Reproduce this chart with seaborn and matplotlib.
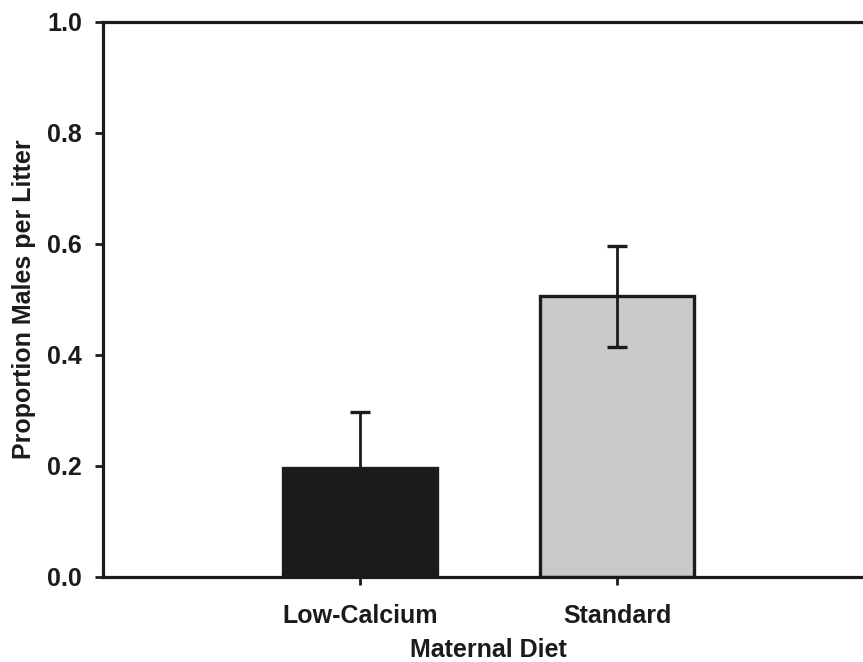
import matplotlib
matplotlib.use("Agg")
import matplotlib.pyplot as plt
import seaborn as sns
import pandas as pd

diets = ["Low-Calcium", "Standard"]
proportion = [0.196, 0.506]
sem = [0.102, 0.091]
colors = ["#1b1b1b", "#c9c9cd"]

sns.set_theme(style="ticks")
plt.rcParams["font.family"] = ["Liberation Sans", "DejaVu Sans"]
plt.rcParams["font.weight"] = "bold"

df = pd.DataFrame({"Maternal Diet": diets, "Proportion": proportion})

fig = plt.figure(figsize=(8.63, 6.62), dpi=100)
ax = fig.add_axes([0.1194, 0.1284, 1.0127 - 0.1194, 0.9668 - 0.1284])

sns.barplot(data=df, x="Maternal Diet", y="Proportion", hue="Maternal Diet",
            palette=colors, width=0.6, errorbar=None, legend=False,
            edgecolor="#1b1b1b", linewidth=2.4, ax=ax, zorder=2)

ax.errorbar(x=range(len(diets)), y=proportion, yerr=sem, fmt="none",
            ecolor="#1b1b1b", elinewidth=2.0, capsize=7, capthick=2.4, zorder=3)

ax.set_xlim(-1.0, 2.0)
ax.set_ylim(0, 1.0)
ax.set_yticks([0.0, 0.2, 0.4, 0.6, 0.8, 1.0])
ax.set_yticklabels(["0.0", "0.2", "0.4", "0.6", "0.8", "1.0"])

for s in ["left", "bottom", "top"]:
    ax.spines[s].set_linewidth(2.3)
    ax.spines[s].set_color("#1b1b1b")
ax.spines["right"].set_visible(False)

ax.tick_params(axis="both", direction="out", length=6, width=2.0,
               color="#1b1b1b", labelsize=18, labelcolor="#1b1b1b")
ax.tick_params(axis="y", pad=9)
ax.tick_params(axis="x", pad=13.5)
for lab in ax.get_xticklabels() + ax.get_yticklabels():
    lab.set_fontweight("bold")

ax.set_xlabel("Maternal Diet", fontsize=18, fontweight="bold", color="#1b1b1b", labelpad=7)
ax.set_ylabel("Proportion Males per Litter", fontsize=18, fontweight="bold", color="#1b1b1b", labelpad=8)

fig.savefig("out.png", dpi=100)
